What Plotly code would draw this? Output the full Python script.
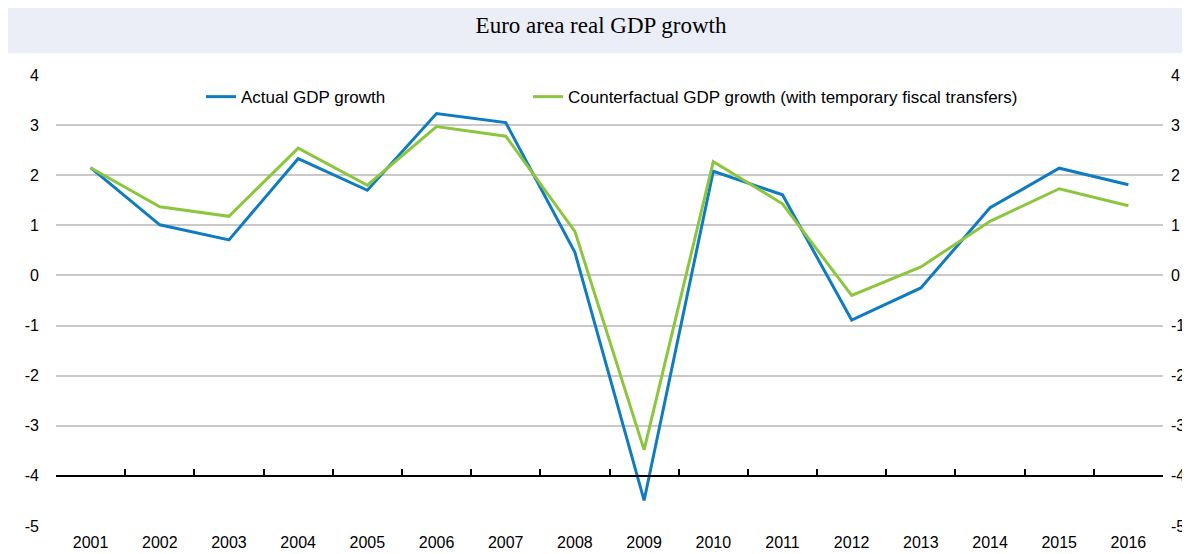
import plotly.graph_objects as go

# Euro area real GDP growth, actual vs counterfactual
years = list(range(2001, 2017))
actual = [2.15, 1.01, 0.71, 2.33, 1.70, 3.23, 3.05, 0.46, -4.49,
          2.08, 1.61, -0.89, -0.25, 1.35, 2.14, 1.81]
counterfactual = [2.15, 1.37, 1.18, 2.54, 1.80, 2.97, 2.78, 0.88, -3.48,
                  2.27, 1.43, -0.40, 0.17, 1.08, 1.73, 1.39]
y_ticks = [4, 3, 2, 1, 0, -1, -2, -3, -4, -5]
y_labels = ["4", "3", "2", "1", "0", "-1", "-2", "-3", "-4", "-5"]

title_text = "Euro area real GDP growth"
name_actual = "Actual GDP growth"
name_counter = "Counterfactual GDP growth (with temporary fiscal transfers)"

BLUE = "#0F7CC1"
GREEN = "#8CC63F"
BAND = "#EBEEF7"
sans = "Liberation Sans, Arial, sans-serif"

# the page body adds an 8px margin, so the figure is drawn 8px smaller
W, H = 1182, 546
L, T, PW, PH = 48, 67, 1107, 451

fig = go.Figure()

fig.add_trace(go.Scatter(x=years, y=actual, mode="lines", name=name_actual,
                         line=dict(color=BLUE, width=3), legend="legend"))
fig.add_trace(go.Scatter(x=years, y=counterfactual, mode="lines", name=name_counter,
                         line=dict(color=GREEN, width=3), legend="legend2"))
# invisible trace so the overlay axes (tick line at -4, right labels) get drawn
fig.add_trace(go.Scatter(x=years, y=actual, mode="lines", xaxis="x2", yaxis="y2",
                         line=dict(width=0), opacity=0, showlegend=False,
                         hoverinfo="skip"))

x_range = [2000.5, 2016.5]
y_range = [-5, 4]

fig.update_layout(
    width=W, height=H,
    margin=dict(l=L, r=W - L - PW, t=T, b=H - T - PH, autoexpand=False),
    paper_bgcolor=BAND,
    plot_bgcolor="white",
    title=dict(text=title_text, x=593 / W, xanchor="center", y=1 - 17 / H,
               yanchor="middle",
               font=dict(family="Liberation Serif, Times New Roman, serif",
                         size=23, color="black")),
    xaxis=dict(range=x_range, tickvals=years, ticktext=[str(y) for y in years],
               showgrid=False, zeroline=False, showline=False, ticks="",
               ticklabelstandoff=5, automargin=False,
               tickfont=dict(family=sans, size=16, color="black")),
    xaxis2=dict(range=x_range, overlaying="x", anchor="free", position=1 / 9,
                tick0=2000.5, dtick=1, ticks="inside", ticklen=6, tickwidth=1.5,
                tickcolor="black", showline=True, linecolor="black", linewidth=2,
                showticklabels=False, showgrid=False, zeroline=False, automargin=False),
    yaxis=dict(range=y_range, tickvals=y_ticks, ticktext=y_labels, showgrid=True,
               gridcolor="#C9C9C9", gridwidth=1.5, zeroline=False, showline=False,
               ticks="", ticklabelstandoff=16, automargin=False,
               tickfont=dict(family=sans, size=16, color="black")),
    yaxis2=dict(range=y_range, tickvals=y_ticks, ticktext=y_labels, overlaying="y",
                side="right", anchor="x", showgrid=False, zeroline=False,
                showline=False, ticks="", ticklabelstandoff=7, automargin=False,
                tickfont=dict(family=sans, size=16, color="black")),
    legend=dict(x=(193 - L) / PW, xanchor="left", y=0.951, yanchor="middle",
                bgcolor="rgba(0,0,0,0)", font=dict(family=sans, size=17, color="black")),
    legend2=dict(x=(520 - L) / PW, xanchor="left", y=0.951, yanchor="middle",
                 bgcolor="rgba(0,0,0,0)", font=dict(family=sans, size=17, color="black")),
    shapes=[dict(type="rect", xref="paper", yref="paper",
                 x0=-L / PW, x1=(W - L) / PW + 0.01, y0=-0.2, y1=(T + PH - 45) / PH,
                 fillcolor="white", line=dict(width=0), layer="below")],
)

fig.write_html("out.html")
